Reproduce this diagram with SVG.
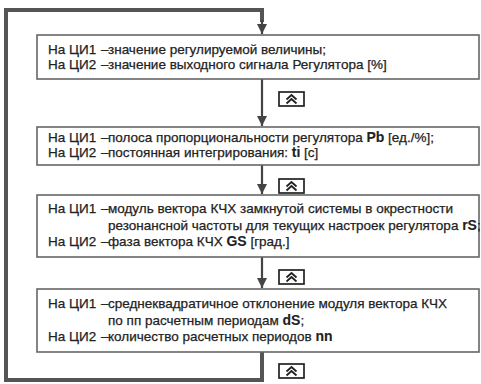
<svg xmlns="http://www.w3.org/2000/svg" width="481" height="384" viewBox="0 0 481 384">
<style>
.box{fill:#fff;stroke:#666;stroke-width:1.6}
.loop{fill:none;stroke:#555;stroke-width:4}
.link{fill:none;stroke:#444;stroke-width:2.2}
.btn{fill:#fff;stroke:#222;stroke-width:1.7}
.chev{fill:none;stroke:#222;stroke-width:1.8}
text{font-family:"Liberation Sans Narrow","Liberation Sans",Arial,sans-serif;font-size:13.5px;fill:#222;stroke:#222;stroke-width:0.25}
.b{font-family:"Liberation Sans",Arial,sans-serif;font-weight:bold;font-size:14px;stroke-width:0.1}
</style>
<defs>
<marker id="ah" viewBox="0 0 10 10" refX="10" refY="5" markerWidth="5" markerHeight="4.6" orient="auto" markerUnits="strokeWidth">
<path d="M0,0L10,5L0,10z" fill="#444"/>
</marker>
<g id="chevrons">
<rect class="btn" x="0" y="0" width="25" height="14"/>
<path class="chev" d="M7.5,7.5L12.5,3L17.5,7.5M7.5,11.5L12.5,7L17.5,11.5"/>
</g>
</defs>
<g id="connectors">
<path class="loop" d="M262,352V380H6V10H262V22"/>
<path class="link" d="M262,20V34" marker-end="url(#ah)"/>
<path class="link" d="M262,79V126" marker-end="url(#ah)"/>
<path class="link" d="M262,165V194" marker-end="url(#ah)"/>
<path class="link" d="M262,257V288" marker-end="url(#ah)"/>
</g>
<g id="key1"><use href="#chevrons" x="279" y="92"/></g>
<g id="key2"><use href="#chevrons" x="279" y="179"/></g>
<g id="key3"><use href="#chevrons" x="279" y="270"/></g>
<g id="key4"><use href="#chevrons" x="279" y="364"/></g>
<g id="node1">
<rect class="box" x="37" y="35" width="442" height="44"/>
<text y="54"><tspan x="48">На ЦИ1</tspan><tspan x="101">–</tspan><tspan x="108">значение регулируемой величины;</tspan></text>
<text y="69"><tspan x="48">На ЦИ2</tspan><tspan x="101">–</tspan><tspan x="108">значение выходного сигнала Регулятора [%]</tspan></text>
</g>
<g id="node2">
<rect class="box" x="37" y="127" width="442" height="38"/>
<text y="142"><tspan x="48">На ЦИ1</tspan><tspan x="101">–</tspan><tspan x="108">полоса пропорциональности регулятора </tspan><tspan class="b">Pb</tspan> [ед./%];</text>
<text y="157"><tspan x="48">На ЦИ2</tspan><tspan x="101">–</tspan><tspan x="108">постоянная интегрирования: </tspan><tspan class="b">ti</tspan> [с]</text>
</g>
<g id="node3">
<rect class="box" x="37" y="195" width="442" height="62"/>
<text y="213"><tspan x="48">На ЦИ1</tspan><tspan x="101">–</tspan><tspan x="108">модуль вектора КЧХ замкнутой системы в окрестности</tspan></text>
<text y="230" x="108">резонансной частоты для текущих настроек регулятора <tspan class="b">rS</tspan>;</text>
<text y="246"><tspan x="48">На ЦИ2</tspan><tspan x="101">–</tspan><tspan x="108">фаза вектора КЧХ </tspan><tspan class="b">GS</tspan> [град.]</text>
</g>
<g id="node4">
<rect class="box" x="37" y="289" width="442" height="63"/>
<text y="308"><tspan x="48">На ЦИ1</tspan><tspan x="101">–</tspan><tspan x="108">среднеквадратичное отклонение модуля вектора КЧХ</tspan></text>
<text y="325" x="108">по пп расчетным периодам <tspan class="b">dS</tspan>;</text>
<text y="341"><tspan x="48">На ЦИ2</tspan><tspan x="101">–</tspan><tspan x="108">количество расчетных периодов </tspan><tspan class="b">nn</tspan></text>
</g>
</svg>
